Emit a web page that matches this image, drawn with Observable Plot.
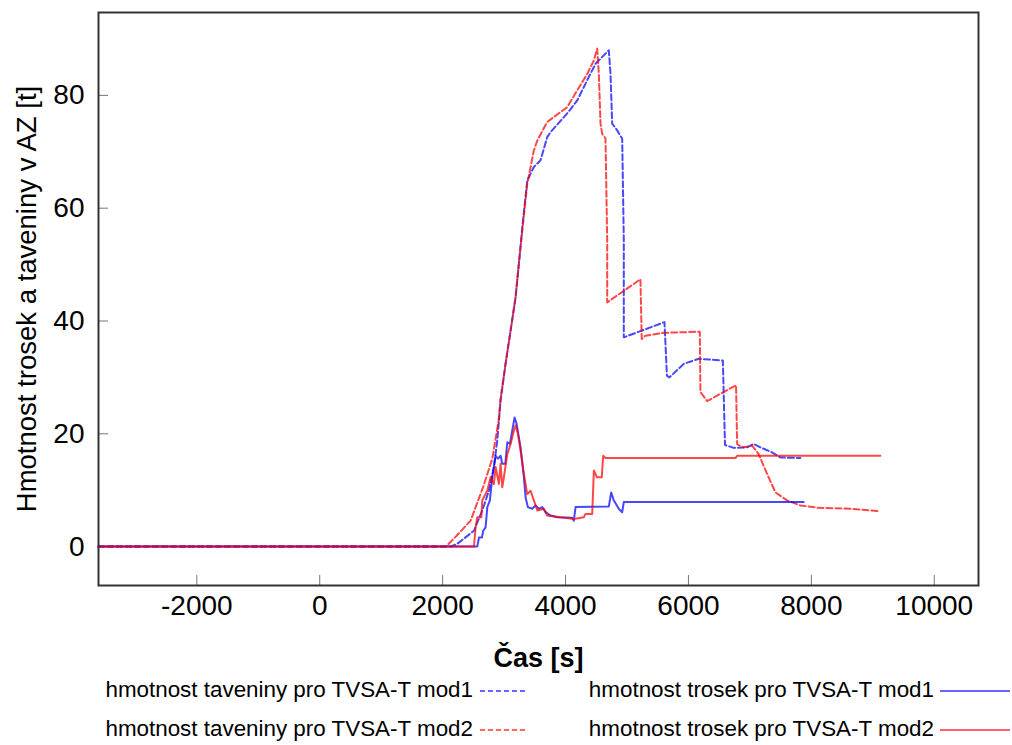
<!DOCTYPE html>
<html><head><meta charset="utf-8">
<script src="https://cdn.jsdelivr.net/npm/d3@7"></script>
<script src="https://cdn.jsdelivr.net/npm/@observablehq/plot@0.6"></script>
<style>
body{margin:0;background:#fff;font-family:"Liberation Sans",Arial,sans-serif;}
#wrap{position:relative;width:1012px;height:745px;overflow:hidden;}
.leg{position:absolute;font-size:22.4px;white-space:nowrap;height:24px;line-height:24px;color:#000;text-align:right;}
.sample{position:absolute;}
</style></head><body><div id="wrap"><div id="chart"></div></div>
<script>
// ---- data ----
const xTicks = [-2000, 0, 2000, 4000, 6000, 8000, 10000];
const yTicks = [0, 20, 40, 60, 80];
const xLabel = "Čas [s]";
const yLabel = "Hmotnost trosek a taveniny v AZ [t]";
const seriesNames = [
  "hmotnost taveniny pro TVSA-T mod1",
  "hmotnost taveniny pro TVSA-T mod2",
  "hmotnost trosek pro TVSA-T mod1",
  "hmotnost trosek pro TVSA-T mod2"
];
const meltMod1Time = [-3600,2130,2239,2509,2645,2753,2834,2889,2943,3025,3106,3187,3241,3296,3377,3484,3593,3702,3756,4027,4190,4353,4488,4569,4704,4732,4759,4841,4922,4948,4948,5610,5650,5690,5924,6170,6560,6595,6629,6737,6954,7062,7171,7360,7496,7821];
const meltMod1Mass = [0,0,0.5,2.8,6.4,9.9,14.1,18.8,25.9,32.5,38.3,44.2,50.2,56.6,64.9,67.3,68.5,72.6,73.5,76.8,79.1,82.7,85.6,86.5,88.0,83.8,75.0,73.8,72.3,54.3,37.1,39.8,30.3,30.0,32.4,33.3,33.0,18.0,17.9,17.5,17.6,18.2,17.6,16.7,15.8,15.7];
const meltMod2Time = [-3600,2050,2184,2455,2667,2808,2911,2943,3025,3106,3187,3241,3296,3377,3431,3484,3540,3702,4027,4190,4353,4460,4515,4542,4569,4596,4650,4678,4678,5219,5240,5300,5600,6185,6195,6304,6775,6792,6818,6899,7035,7143,7280,7415,7605,7821,8093,8634,9094];
const meltMod2Mass = [0,0,1.4,4.6,10.8,15.6,22.3,26.2,32.5,38.3,44.2,50.2,56,64.3,67.3,70.2,72,75.3,77.9,80.9,83.8,86.2,88.3,83.8,75,73.2,72.4,54.3,43.3,47.4,36.8,37.4,37.9,38.1,27.4,25.8,28.6,18.2,18.0,17.6,17.9,16.4,12.9,9.6,8.2,7.3,6.9,6.7,6.3];
const debrisMod1Time = [-3600,2564,2591,2640,2660,2699,2727,2769,2808,2862,2900,2943,2970,3020,3052,3095,3133,3171,3203,3268,3322,3350,3387,3458,3512,3566,3621,3675,3756,3865,4109,4135,4163,4704,4743,4785,4866,4922,4948,7875];
const debrisMod1Mass = [0,0,1.6,1.6,2.8,3.4,7.0,8.2,12.3,16.1,15.6,16.1,14.7,14.7,18.5,18.2,20.6,22.9,21.8,17.6,12.3,8.7,7.0,6.7,7.3,6.7,7.0,6.1,5.5,5.2,5.1,4.6,7.0,7.1,9.6,8.2,6.7,6.1,7.9,7.9];
const debrisMod2Time = [-3600,2509,2537,2564,2630,2645,2727,2780,2834,2862,2916,2943,2970,2997,3052,3106,3160,3187,3225,3268,3322,3377,3431,3485,3540,3647,3702,3919,4135,4298,4325,4434,4461,4510,4590,4612,4650,6764,6792,9122];
const debrisMod2Mass = [0,0,3.4,5.2,5.2,8.2,9.9,12.3,11.1,14.1,11.1,14.7,10.5,12.3,16.4,18.2,20.6,21.5,20,17,12.9,9.3,9.9,8.2,6.4,6.7,5.5,5.2,4.9,5.2,5.8,5.8,13.5,12.3,12.3,16.1,15.7,15.7,16.1,16.1];
const seriesColors = ["#0000ff", "#ff0000", "#0000ff", "#ff0000"];
const seriesDashed = [true, true, false, false];

// ---- build table ----
const times = [meltMod1Time, meltMod2Time, debrisMod1Time, debrisMod2Time];
const masses = [meltMod1Mass, meltMod2Mass, debrisMod1Mass, debrisMod2Mass];
const rows = [];
seriesNames.forEach((name, i) => times[i].forEach((t, j) => rows.push({series: name, t, m: masses[i][j]})));

const lineMarks = seriesNames.map((name, i) => Plot.line(rows.filter(r => r.series === name), {
  x: "t", y: "m", stroke: seriesColors[i], strokeOpacity: 0.72, strokeWidth: 2,
  strokeDasharray: seriesDashed[i] ? "6,3" : null
}));

const fmt = d => String(d);
const chart = Plot.plot({
  width: 1012, height: 675,
  marginLeft: 98, marginRight: 34, marginTop: 12, marginBottom: 90,
  style: {fontFamily: "'Liberation Sans', Arial, sans-serif", fontSize: "28px", color: "#000", background: "#fff"},
  x: {domain: [-3600, 10720]},
  y: {domain: [-6.9, 94.7]},
  marks: [
    Plot.axisX(xTicks, {tickSize: -10, fill: "none", stroke: "#777", label: null}),
    Plot.axisX(xTicks, {tickSize: 0, tickPadding: 10, label: null, fontSize: 28, tickFormat: fmt}),
    Plot.axisY(yTicks, {tickSize: -10, fill: "none", stroke: "#777", label: null}),
    Plot.axisY(yTicks, {tickSize: 0, tickPadding: 14, label: null, fontSize: 28, tickFormat: fmt}),
    ...lineMarks,
    Plot.frame({stroke: "#333", strokeWidth: 2}),
    Plot.text([xLabel], {frameAnchor: "bottom", text: d => d, dy: 81, fontSize: 27, fontWeight: "bold"}),
    Plot.text([yLabel], {frameAnchor: "left", text: d => d, dx: -71, rotate: -90, fontSize: 27.5, textAnchor: "middle"})
  ]
});
const wrap = document.getElementById("wrap");
document.getElementById("chart").appendChild(chart);

// ---- legend ----
// [text right edge, row centre, sample left]
const legPos = [[473, 690, 480], [473, 729, 480], [934, 690, 940], [934, 729, 940]];
seriesNames.forEach((name, i) => {
  const d = document.createElement("div");
  d.className = "leg";
  d.style.right = (1012 - legPos[i][0]) + "px";
  d.style.top = (legPos[i][1] - 12) + "px";
  d.textContent = name;
  wrap.appendChild(d);
  const len = seriesDashed[i] ? 46 : 70;
  const s = document.createElement("div");
  s.className = "sample";
  s.style.left = legPos[i][2] + "px";
  s.style.top = (legPos[i][1] - 4) + "px";
  s.innerHTML = `<svg width="${len}" height="10" style="display:block"><line x1="0" x2="${len}" y1="5" y2="5" stroke="${seriesColors[i]}" stroke-opacity="0.6" stroke-width="2" ${seriesDashed[i] ? 'stroke-dasharray="5,3"' : ''}/></svg>`;
  wrap.appendChild(s);
});
</script></body></html>
